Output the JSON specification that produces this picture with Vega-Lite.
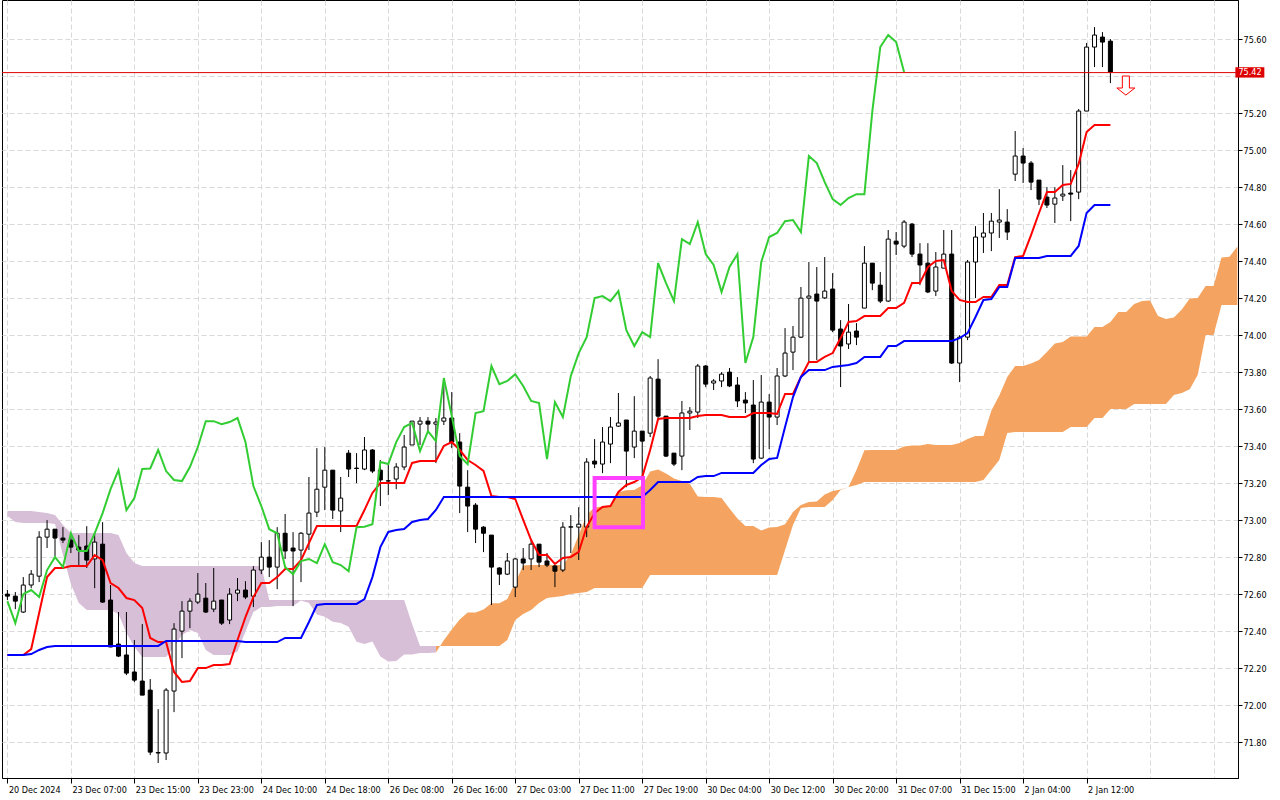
{
  "$schema": "https://vega.github.io/schema/vega-lite/v6.json",
  "description": "H1 Ichimoku chart, 20 Dec 2024 - 2 Jan 2025",
  "width": 1236,
  "height": 778,
  "autosize": "none",
  "padding": {"left": 2, "top": 0, "right": 42, "bottom": 22},
  "background": "white",
  "config": {
    "view": {"stroke": "black", "strokeWidth": 1},
    "font": "DejaVu Sans Condensed"
  },
  "datasets": {
    "bars": [
      {"i":0,"o":72.601,"h":72.623,"l":72.569,"c":72.590,"t":72.272,"k":72.272,"ch":72.563,"sa":73.023,"sb":73.050},
      {"i":1,"o":72.590,"h":72.612,"l":72.520,"c":72.563,"t":72.272,"k":72.272,"ch":72.444,"sa":72.991,"sb":73.050},
      {"i":2,"o":72.504,"h":72.693,"l":72.499,"c":72.650,"t":72.272,"k":72.272,"ch":72.601,"sa":72.986,"sb":73.050},
      {"i":3,"o":72.650,"h":72.731,"l":72.633,"c":72.709,"t":72.304,"k":72.277,"ch":72.623,"sa":72.986,"sb":73.050},
      {"i":4,"o":72.698,"h":72.941,"l":72.666,"c":72.909,"t":72.499,"k":72.299,"ch":72.585,"sa":72.986,"sb":73.045},
      {"i":5,"o":72.909,"h":73.001,"l":72.850,"c":72.952,"t":72.693,"k":72.315,"ch":72.731,"sa":72.986,"sb":73.039},
      {"i":6,"o":72.952,"h":72.952,"l":72.806,"c":72.904,"t":72.742,"k":72.321,"ch":72.801,"sa":72.980,"sb":73.028},
      {"i":7,"o":72.904,"h":72.963,"l":72.877,"c":72.893,"t":72.742,"k":72.321,"ch":72.747,"sa":72.812,"sb":72.975},
      {"i":8,"o":72.893,"h":72.930,"l":72.823,"c":72.855,"t":72.753,"k":72.321,"ch":72.930,"sa":72.656,"sb":72.931},
      {"i":9,"o":72.855,"h":72.920,"l":72.758,"c":72.839,"t":72.753,"k":72.321,"ch":72.834,"sa":72.553,"sb":72.931},
      {"i":10,"o":72.861,"h":72.968,"l":72.742,"c":72.785,"t":72.753,"k":72.321,"ch":72.834,"sa":72.515,"sb":72.931},
      {"i":11,"o":72.791,"h":72.930,"l":72.633,"c":72.882,"t":72.812,"k":72.321,"ch":72.930,"sa":72.515,"sb":72.931},
      {"i":12,"o":72.871,"h":72.990,"l":72.553,"c":72.558,"t":72.785,"k":72.321,"ch":73.039,"sa":72.515,"sb":72.931},
      {"i":13,"o":72.569,"h":72.650,"l":72.315,"c":72.315,"t":72.661,"k":72.321,"ch":73.168,"sa":72.515,"sb":72.931},
      {"i":14,"o":72.331,"h":72.504,"l":72.261,"c":72.266,"t":72.634,"k":72.321,"ch":73.271,"sa":72.494,"sb":72.921},
      {"i":15,"o":72.272,"h":72.504,"l":72.163,"c":72.174,"t":72.580,"k":72.321,"ch":73.055,"sa":72.391,"sb":72.823},
      {"i":16,"o":72.180,"h":72.353,"l":72.125,"c":72.136,"t":72.569,"k":72.321,"ch":73.120,"sa":72.315,"sb":72.769},
      {"i":17,"o":72.131,"h":72.439,"l":72.055,"c":72.055,"t":72.526,"k":72.321,"ch":73.277,"sa":72.261,"sb":72.753},
      {"i":18,"o":72.082,"h":72.142,"l":71.731,"c":71.747,"t":72.364,"k":72.321,"ch":73.280,"sa":72.261,"sb":72.753},
      {"i":19,"o":71.742,"h":71.979,"l":71.688,"c":71.745,"t":72.342,"k":72.321,"ch":73.380,"sa":72.261,"sb":72.753},
      {"i":20,"o":71.742,"h":72.093,"l":71.704,"c":72.082,"t":72.342,"k":72.348,"ch":73.266,"sa":72.261,"sb":72.753},
      {"i":21,"o":72.077,"h":72.444,"l":71.963,"c":72.412,"t":72.180,"k":72.348,"ch":73.218,"sa":72.315,"sb":72.753},
      {"i":22,"o":72.401,"h":72.563,"l":72.255,"c":72.509,"t":72.126,"k":72.348,"ch":73.212,"sa":72.380,"sb":72.753},
      {"i":23,"o":72.509,"h":72.579,"l":72.417,"c":72.563,"t":72.131,"k":72.348,"ch":73.288,"sa":72.407,"sb":72.753},
      {"i":24,"o":72.558,"h":72.715,"l":72.547,"c":72.601,"t":72.201,"k":72.348,"ch":73.396,"sa":72.391,"sb":72.753},
      {"i":25,"o":72.579,"h":72.661,"l":72.499,"c":72.504,"t":72.201,"k":72.348,"ch":73.536,"sa":72.299,"sb":72.753},
      {"i":26,"o":72.520,"h":72.742,"l":72.504,"c":72.563,"t":72.218,"k":72.348,"ch":73.536,"sa":72.272,"sb":72.753},
      {"i":27,"o":72.569,"h":72.569,"l":72.434,"c":72.444,"t":72.218,"k":72.348,"ch":73.520,"sa":72.272,"sb":72.753},
      {"i":28,"o":72.461,"h":72.633,"l":72.439,"c":72.601,"t":72.223,"k":72.348,"ch":73.531,"sa":72.272,"sb":72.753},
      {"i":29,"o":72.606,"h":72.688,"l":72.563,"c":72.623,"t":72.353,"k":72.348,"ch":73.553,"sa":72.291,"sb":72.753},
      {"i":30,"o":72.623,"h":72.671,"l":72.574,"c":72.585,"t":72.477,"k":72.342,"ch":73.423,"sa":72.399,"sb":72.753},
      {"i":31,"o":72.590,"h":72.752,"l":72.531,"c":72.731,"t":72.585,"k":72.342,"ch":73.185,"sa":72.504,"sb":72.753},
      {"i":32,"o":72.731,"h":72.882,"l":72.709,"c":72.801,"t":72.661,"k":72.342,"ch":73.077,"sa":72.532,"sb":72.753},
      {"i":33,"o":72.801,"h":72.893,"l":72.693,"c":72.747,"t":72.661,"k":72.342,"ch":72.952,"sa":72.532,"sb":72.569},
      {"i":34,"o":72.747,"h":72.963,"l":72.628,"c":72.930,"t":72.693,"k":72.342,"ch":72.930,"sa":72.537,"sb":72.569},
      {"i":35,"o":72.930,"h":73.034,"l":72.791,"c":72.834,"t":72.737,"k":72.364,"ch":72.747,"sa":72.537,"sb":72.569},
      {"i":36,"o":72.850,"h":72.936,"l":72.536,"c":72.834,"t":72.737,"k":72.364,"ch":72.709,"sa":72.537,"sb":72.569},
      {"i":37,"o":72.839,"h":72.936,"l":72.666,"c":72.930,"t":72.785,"k":72.364,"ch":72.780,"sa":72.567,"sb":72.569},
      {"i":38,"o":72.925,"h":73.234,"l":72.839,"c":73.039,"t":72.877,"k":72.450,"ch":72.791,"sa":72.553,"sb":72.569},
      {"i":39,"o":73.044,"h":73.390,"l":73.017,"c":73.168,"t":72.969,"k":72.542,"ch":72.769,"sa":72.491,"sb":72.569},
      {"i":40,"o":73.179,"h":73.396,"l":73.055,"c":73.271,"t":72.969,"k":72.548,"ch":72.871,"sa":72.478,"sb":72.569},
      {"i":41,"o":73.271,"h":73.271,"l":73.007,"c":73.055,"t":72.969,"k":72.548,"ch":72.774,"sa":72.451,"sb":72.569},
      {"i":42,"o":73.050,"h":73.234,"l":72.936,"c":73.120,"t":72.969,"k":72.548,"ch":72.758,"sa":72.445,"sb":72.569},
      {"i":43,"o":73.363,"h":73.380,"l":73.234,"c":73.277,"t":72.969,"k":72.548,"ch":72.725,"sa":72.424,"sb":72.569},
      {"i":44,"o":73.282,"h":73.363,"l":73.201,"c":73.280,"t":72.969,"k":72.548,"ch":72.963,"sa":72.343,"sb":72.569},
      {"i":45,"o":73.277,"h":73.450,"l":73.271,"c":73.380,"t":73.056,"k":72.574,"ch":72.965,"sa":72.332,"sb":72.569},
      {"i":46,"o":73.380,"h":73.385,"l":73.255,"c":73.266,"t":73.148,"k":72.693,"ch":72.979,"sa":72.345,"sb":72.569},
      {"i":47,"o":73.271,"h":73.325,"l":73.077,"c":73.218,"t":73.202,"k":72.855,"ch":73.315,"sa":72.264,"sb":72.569},
      {"i":48,"o":73.212,"h":73.309,"l":73.136,"c":73.214,"t":73.202,"k":72.937,"ch":73.304,"sa":72.237,"sb":72.569},
      {"i":49,"o":73.223,"h":73.309,"l":73.168,"c":73.288,"t":73.202,"k":72.948,"ch":73.423,"sa":72.240,"sb":72.569},
      {"i":50,"o":73.288,"h":73.461,"l":73.271,"c":73.396,"t":73.202,"k":72.953,"ch":73.504,"sa":72.275,"sb":72.569},
      {"i":51,"o":73.407,"h":73.536,"l":73.407,"c":73.536,"t":73.310,"k":72.991,"ch":73.526,"sa":72.275,"sb":72.439},
      {"i":52,"o":73.520,"h":73.558,"l":73.407,"c":73.536,"t":73.321,"k":73.002,"ch":73.374,"sa":72.283,"sb":72.320},
      {"i":53,"o":73.536,"h":73.558,"l":73.471,"c":73.520,"t":73.321,"k":73.007,"ch":73.482,"sa":72.283,"sb":72.320},
      {"i":54,"o":73.520,"h":73.553,"l":73.309,"c":73.531,"t":73.321,"k":73.056,"ch":73.428,"sa":72.286,"sb":72.320},
      {"i":55,"o":73.536,"h":73.769,"l":73.515,"c":73.553,"t":73.402,"k":73.126,"ch":73.769,"sa":72.351,"sb":72.320},
      {"i":56,"o":73.553,"h":73.693,"l":73.390,"c":73.423,"t":73.423,"k":73.126,"ch":73.563,"sa":72.410,"sb":72.320},
      {"i":57,"o":73.423,"h":73.471,"l":73.039,"c":73.185,"t":73.380,"k":73.126,"ch":73.347,"sa":72.464,"sb":72.320},
      {"i":58,"o":73.179,"h":73.271,"l":72.936,"c":73.077,"t":73.326,"k":73.126,"ch":73.304,"sa":72.502,"sb":72.320},
      {"i":59,"o":73.082,"h":73.093,"l":72.877,"c":72.952,"t":73.299,"k":73.126,"ch":73.580,"sa":72.502,"sb":72.320},
      {"i":60,"o":72.963,"h":72.968,"l":72.828,"c":72.930,"t":73.267,"k":73.126,"ch":73.590,"sa":72.518,"sb":72.320},
      {"i":61,"o":72.920,"h":72.920,"l":72.542,"c":72.747,"t":73.131,"k":73.126,"ch":73.834,"sa":72.551,"sb":72.320},
      {"i":62,"o":72.742,"h":72.747,"l":72.650,"c":72.709,"t":73.126,"k":73.126,"ch":73.736,"sa":72.551,"sb":72.320},
      {"i":63,"o":72.709,"h":72.823,"l":72.704,"c":72.780,"t":73.126,"k":73.126,"ch":73.753,"sa":72.575,"sb":72.353},
      {"i":64,"o":72.639,"h":72.796,"l":72.585,"c":72.791,"t":73.115,"k":73.126,"ch":73.790,"sa":72.664,"sb":72.461},
      {"i":65,"o":72.791,"h":72.850,"l":72.731,"c":72.769,"t":73.002,"k":73.126,"ch":73.726,"sa":72.756,"sb":72.494},
      {"i":66,"o":72.791,"h":72.893,"l":72.731,"c":72.871,"t":72.893,"k":73.126,"ch":73.645,"sa":72.759,"sb":72.515},
      {"i":67,"o":72.871,"h":72.871,"l":72.747,"c":72.774,"t":72.812,"k":73.126,"ch":73.634,"sa":72.759,"sb":72.553},
      {"i":68,"o":72.780,"h":72.823,"l":72.747,"c":72.758,"t":72.812,"k":73.126,"ch":73.331,"sa":72.759,"sb":72.580},
      {"i":69,"o":72.753,"h":72.758,"l":72.639,"c":72.725,"t":72.764,"k":73.126,"ch":73.639,"sa":72.759,"sb":72.585},
      {"i":70,"o":72.731,"h":72.990,"l":72.720,"c":72.963,"t":72.796,"k":73.126,"ch":73.558,"sa":72.759,"sb":72.591},
      {"i":71,"o":72.963,"h":73.028,"l":72.823,"c":72.965,"t":72.802,"k":73.126,"ch":73.780,"sa":72.815,"sb":72.601},
      {"i":72,"o":72.963,"h":73.071,"l":72.785,"c":72.979,"t":72.829,"k":73.126,"ch":73.904,"sa":72.921,"sb":72.607},
      {"i":73,"o":72.963,"h":73.336,"l":72.909,"c":73.315,"t":72.964,"k":73.126,"ch":73.990,"sa":73.029,"sb":72.612},
      {"i":74,"o":73.320,"h":73.439,"l":73.282,"c":73.304,"t":73.039,"k":73.126,"ch":74.201,"sa":73.070,"sb":72.634},
      {"i":75,"o":73.304,"h":73.504,"l":73.255,"c":73.423,"t":73.072,"k":73.126,"ch":74.212,"sa":73.075,"sb":72.634},
      {"i":76,"o":73.412,"h":73.558,"l":73.309,"c":73.504,"t":73.077,"k":73.126,"ch":74.185,"sa":73.078,"sb":72.634},
      {"i":77,"o":73.509,"h":73.688,"l":73.504,"c":73.526,"t":73.153,"k":73.126,"ch":74.239,"sa":73.151,"sb":72.634},
      {"i":78,"o":73.542,"h":73.542,"l":73.179,"c":73.374,"t":73.191,"k":73.126,"ch":74.028,"sa":73.162,"sb":72.634},
      {"i":79,"o":73.396,"h":73.671,"l":73.336,"c":73.482,"t":73.207,"k":73.126,"ch":73.942,"sa":73.164,"sb":72.634},
      {"i":80,"o":73.482,"h":73.482,"l":73.234,"c":73.428,"t":73.234,"k":73.126,"ch":74.017,"sa":73.189,"sb":72.634},
      {"i":81,"o":73.471,"h":73.780,"l":73.450,"c":73.769,"t":73.380,"k":73.164,"ch":73.990,"sa":73.264,"sb":72.704},
      {"i":82,"o":73.763,"h":73.871,"l":73.553,"c":73.563,"t":73.548,"k":73.207,"ch":74.390,"sa":73.275,"sb":72.704},
      {"i":83,"o":73.563,"h":73.563,"l":73.342,"c":73.347,"t":73.553,"k":73.207,"ch":74.282,"sa":73.253,"sb":72.704},
      {"i":84,"o":73.363,"h":73.363,"l":73.293,"c":73.304,"t":73.553,"k":73.207,"ch":74.185,"sa":73.226,"sb":72.704},
      {"i":85,"o":73.347,"h":73.645,"l":73.271,"c":73.580,"t":73.553,"k":73.207,"ch":74.520,"sa":73.213,"sb":72.704},
      {"i":86,"o":73.580,"h":73.612,"l":73.488,"c":73.590,"t":73.553,"k":73.207,"ch":74.493,"sa":73.197,"sb":72.704},
      {"i":87,"o":73.585,"h":73.845,"l":73.553,"c":73.834,"t":73.564,"k":73.234,"ch":74.612,"sa":73.129,"sb":72.704},
      {"i":88,"o":73.834,"h":73.839,"l":73.720,"c":73.736,"t":73.569,"k":73.239,"ch":74.439,"sa":73.126,"sb":72.704},
      {"i":89,"o":73.742,"h":73.763,"l":73.704,"c":73.753,"t":73.569,"k":73.239,"ch":74.380,"sa":73.126,"sb":72.704},
      {"i":90,"o":73.753,"h":73.801,"l":73.720,"c":73.790,"t":73.569,"k":73.256,"ch":74.234,"sa":73.121,"sb":72.704},
      {"i":91,"o":73.801,"h":73.823,"l":73.720,"c":73.726,"t":73.558,"k":73.256,"ch":74.369,"sa":73.064,"sb":72.704},
      {"i":92,"o":73.731,"h":73.774,"l":73.612,"c":73.645,"t":73.558,"k":73.256,"ch":74.439,"sa":73.010,"sb":72.704},
      {"i":93,"o":73.650,"h":73.693,"l":73.580,"c":73.634,"t":73.558,"k":73.256,"ch":73.850,"sa":72.969,"sb":72.704},
      {"i":94,"o":73.623,"h":73.758,"l":73.309,"c":73.331,"t":73.580,"k":73.256,"ch":73.990,"sa":72.969,"sb":72.704},
      {"i":95,"o":73.336,"h":73.785,"l":73.331,"c":73.639,"t":73.580,"k":73.299,"ch":74.396,"sa":72.945,"sb":72.704},
      {"i":96,"o":73.639,"h":73.682,"l":73.385,"c":73.558,"t":73.580,"k":73.331,"ch":74.531,"sa":72.961,"sb":72.704},
      {"i":97,"o":73.558,"h":73.823,"l":73.515,"c":73.780,"t":73.575,"k":73.337,"ch":74.553,"sa":72.964,"sb":72.704},
      {"i":98,"o":73.780,"h":74.039,"l":73.774,"c":73.904,"t":73.683,"k":73.504,"ch":74.617,"sa":72.978,"sb":72.839},
      {"i":99,"o":73.909,"h":74.050,"l":73.812,"c":73.990,"t":73.683,"k":73.666,"ch":74.623,"sa":73.045,"sb":72.975},
      {"i":100,"o":73.990,"h":74.261,"l":73.985,"c":74.201,"t":73.775,"k":73.775,"ch":74.558,"sa":73.083,"sb":73.066},
      {"i":101,"o":74.201,"h":74.396,"l":73.850,"c":74.212,"t":73.856,"k":73.812,"ch":74.969,"sa":73.099,"sb":73.072},
      {"i":102,"o":74.223,"h":74.369,"l":73.866,"c":74.185,"t":73.856,"k":73.812,"ch":74.931,"sa":73.102,"sb":73.072},
      {"i":103,"o":74.202,"h":74.423,"l":74.196,"c":74.239,"t":73.883,"k":73.812,"ch":74.828,"sa":73.140,"sb":73.072},
      {"i":104,"o":74.250,"h":74.336,"l":74.017,"c":74.028,"t":73.904,"k":73.829,"ch":74.736,"sa":73.159,"sb":73.110},
      {"i":105,"o":74.034,"h":74.082,"l":73.720,"c":73.942,"t":73.985,"k":73.834,"ch":74.704,"sa":73.167,"sb":73.164},
      {"i":106,"o":73.953,"h":74.169,"l":73.926,"c":74.017,"t":74.072,"k":73.839,"ch":74.742,"sa":73.180,"sb":73.180},
      {"i":107,"o":74.023,"h":74.066,"l":73.947,"c":73.990,"t":74.077,"k":73.850,"ch":74.763,"sa":73.272,"sb":73.191},
      {"i":108,"o":74.147,"h":74.482,"l":74.147,"c":74.390,"t":74.104,"k":73.883,"ch":74.763,"sa":73.378,"sb":73.207},
      {"i":109,"o":74.390,"h":74.390,"l":74.244,"c":74.282,"t":74.104,"k":73.883,"ch":75.212,"sa":73.380,"sb":73.207},
      {"i":110,"o":74.271,"h":74.342,"l":74.174,"c":74.185,"t":74.104,"k":73.883,"ch":75.558,"sa":73.380,"sb":73.207},
      {"i":111,"o":74.185,"h":74.569,"l":74.180,"c":74.520,"t":74.147,"k":73.942,"ch":75.623,"sa":73.380,"sb":73.207},
      {"i":112,"o":74.509,"h":74.558,"l":74.434,"c":74.493,"t":74.147,"k":73.942,"ch":75.585,"sa":73.380,"sb":73.207},
      {"i":113,"o":74.482,"h":74.623,"l":74.471,"c":74.612,"t":74.175,"k":73.969,"ch":75.423,"sa":73.399,"sb":73.207},
      {"i":114,"o":74.601,"h":74.607,"l":74.423,"c":74.439,"t":74.283,"k":73.969,"sa":73.404,"sb":73.207},
      {"i":115,"o":74.439,"h":74.498,"l":74.271,"c":74.380,"t":74.283,"k":73.969,"sa":73.404,"sb":73.207},
      {"i":116,"o":74.390,"h":74.498,"l":74.228,"c":74.234,"t":74.369,"k":73.969,"sa":73.413,"sb":73.207},
      {"i":117,"o":74.239,"h":74.450,"l":74.212,"c":74.369,"t":74.402,"k":73.969,"sa":73.407,"sb":73.207},
      {"i":118,"o":74.363,"h":74.569,"l":74.363,"c":74.439,"t":74.407,"k":73.969,"sa":73.407,"sb":73.207},
      {"i":119,"o":74.439,"h":74.569,"l":73.845,"c":73.850,"t":74.239,"k":73.969,"sa":73.407,"sb":73.207},
      {"i":120,"o":73.850,"h":74.001,"l":73.747,"c":73.990,"t":74.191,"k":73.985,"sa":73.418,"sb":73.207},
      {"i":121,"o":73.990,"h":74.407,"l":73.974,"c":74.396,"t":74.180,"k":74.012,"sa":73.440,"sb":73.207},
      {"i":122,"o":74.396,"h":74.590,"l":74.201,"c":74.531,"t":74.180,"k":74.099,"sa":73.456,"sb":73.207},
      {"i":123,"o":74.531,"h":74.661,"l":74.445,"c":74.553,"t":74.207,"k":74.191,"sa":73.456,"sb":73.218},
      {"i":124,"o":74.553,"h":74.661,"l":74.455,"c":74.617,"t":74.207,"k":74.196,"sa":73.594,"sb":73.272},
      {"i":125,"o":74.612,"h":74.790,"l":74.526,"c":74.623,"t":74.272,"k":74.261,"sa":73.675,"sb":73.326},
      {"i":126,"o":74.612,"h":74.682,"l":74.515,"c":74.558,"t":74.272,"k":74.261,"sa":73.775,"sb":73.472},
      {"i":127,"o":74.871,"h":75.104,"l":74.834,"c":74.969,"t":74.423,"k":74.418,"sa":73.834,"sb":73.477},
      {"i":128,"o":74.969,"h":75.012,"l":74.823,"c":74.931,"t":74.429,"k":74.418,"sa":73.834,"sb":73.477},
      {"i":129,"o":74.931,"h":74.942,"l":74.785,"c":74.828,"t":74.542,"k":74.418,"sa":73.848,"sb":73.477},
      {"i":130,"o":74.839,"h":74.839,"l":74.704,"c":74.736,"t":74.661,"k":74.418,"sa":73.867,"sb":73.477},
      {"i":131,"o":74.747,"h":74.801,"l":74.688,"c":74.704,"t":74.775,"k":74.429,"sa":73.910,"sb":73.477},
      {"i":132,"o":74.709,"h":74.801,"l":74.607,"c":74.742,"t":74.775,"k":74.429,"sa":73.956,"sb":73.477},
      {"i":133,"o":74.753,"h":74.920,"l":74.726,"c":74.763,"t":74.812,"k":74.429,"sa":73.964,"sb":73.477},
      {"i":134,"o":74.769,"h":74.893,"l":74.617,"c":74.763,"t":74.818,"k":74.429,"sa":73.994,"sb":73.504},
      {"i":135,"o":74.774,"h":75.223,"l":74.736,"c":75.212,"t":74.926,"k":74.483,"sa":73.994,"sb":73.504},
      {"i":136,"o":75.212,"h":75.580,"l":75.212,"c":75.558,"t":75.099,"k":74.661,"sa":73.994,"sb":73.504},
      {"i":137,"o":75.558,"h":75.666,"l":75.450,"c":75.623,"t":75.137,"k":74.704,"sa":74.045,"sb":73.553},
      {"i":138,"o":75.612,"h":75.639,"l":75.450,"c":75.585,"t":75.137,"k":74.704,"sa":74.045,"sb":73.553},
      {"i":139,"o":75.590,"h":75.601,"l":75.363,"c":75.423,"t":75.137,"k":74.704,"sa":74.072,"sb":73.602},
      {"i":140,"sa":74.126,"sb":73.602},
      {"i":141,"sa":74.126,"sb":73.602},
      {"i":142,"sa":74.169,"sb":73.629},
      {"i":143,"sa":74.186,"sb":73.629},
      {"i":144,"sa":74.188,"sb":73.629},
      {"i":145,"sa":74.104,"sb":73.629},
      {"i":146,"sa":74.088,"sb":73.629},
      {"i":147,"sa":74.096,"sb":73.677},
      {"i":148,"sa":74.140,"sb":73.688},
      {"i":149,"sa":74.199,"sb":73.709},
      {"i":150,"sa":74.202,"sb":73.785},
      {"i":151,"sa":74.267,"sb":74.001},
      {"i":152,"sa":74.267,"sb":74.001},
      {"i":153,"sa":74.421,"sb":74.164},
      {"i":154,"sa":74.424,"sb":74.164},
      {"i":155,"sa":74.480,"sb":74.164}
    ]
  },
  "layer": [
    {
      "data": {"name": "bars"},
      "transform": [{"filter": "datum.i <= 54"}],
      "mark": {"type": "area", "color": "#D8BFD8", "clip": true},
      "encoding": {
        "x": {
          "field": "i",
          "type": "quantitative",
          "title": null,
          "scale": {"domain": [-0.05, 154.45], "nice": false, "zero": false},
          "axis": {
            "orient": "bottom",
            "values": [0,4,8,12,16,20,24,28,32,36,40,44,48,52,56,60,64,68,72,76,80,84,88,92,96,100,104,108,112,116,120,124,128,132,136,140,144,148,152],
            "labelExpr": "(datum.value % 8 === 0 && datum.value <= 136) ? ['20 Dec 2024','23 Dec 07:00','23 Dec 15:00','23 Dec 23:00','24 Dec 10:00','24 Dec 18:00','26 Dec 08:00','26 Dec 16:00','27 Dec 03:00','27 Dec 11:00','27 Dec 19:00','30 Dec 04:00','30 Dec 12:00','30 Dec 20:00','31 Dec 07:00','31 Dec 15:00','2 Jan 04:00','2 Jan 12:00'][datum.value / 8] : ''",
            "labelAlign": "left",
            "labelBaseline": "top",
            "labelOffset": 1,
            "labelPadding": 2,
            "labelFont": "DejaVu Sans Condensed",
            "labelFontSize": 9,
            "labelColor": "black",
            "labelOverlap": false,
            "labelFlush": false,
            "labelBound": false,
            "tickSize": 5,
            "tickColor": {"condition": {"test": "datum.value % 8 !== 0 || datum.value > 136", "value": "transparent"}, "value": "black"},
            "domainColor": "black",
            "grid": true,
            "gridColor": "#d9d9d9",
            "gridDash": [5, 3]
          }
        },
        "y": {
          "field": "sa",
          "type": "quantitative",
          "title": null,
          "scale": {"domain": [71.607, 75.8124], "nice": false, "zero": false},
          "axis": {
            "orient": "right",
            "values": [71.8,72.0,72.2,72.4,72.6,72.8,73.0,73.2,73.4,73.6,73.8,74.0,74.2,74.4,74.6,74.8,75.0,75.2,75.4,75.6],
            "labelExpr": "abs(datum.value - 75.4) < 0.001 ? '' : format(datum.value, '.2f')",
            "labelFont": "DejaVu Sans Condensed",
            "labelFontSize": 9,
            "labelColor": "black",
            "labelPadding": 1,
            "labelOverlap": false,
            "labelFlush": false,
            "tickSize": 4,
            "tickColor": "black",
            "domainColor": "black",
            "grid": true,
            "gridColor": "#d9d9d9",
            "gridDash": [5, 3]
          }
        },
        "y2": {"field": "sb"}
      }
    },
    {
      "data": {"name": "bars"},
      "transform": [{"filter": "datum.i >= 54"}],
      "mark": {"type": "area", "color": "#F4A460", "clip": true},
      "encoding": {
        "x": {"field": "i", "type": "quantitative", "title": null},
        "y": {"field": "sa", "type": "quantitative", "title": null},
        "y2": {"field": "sb"}
      }
    },
    {
      "data": {"name": "bars"},
      "transform": [{"filter": "isValid(datum.o)"}],
      "mark": {"type": "rule", "color": "black", "strokeWidth": 1},
      "encoding": {
        "x": {"field": "i", "type": "quantitative", "title": null},
        "y": {"field": "l", "type": "quantitative", "title": null},
        "y2": {"field": "h"}
      }
    },
    {
      "data": {"name": "bars"},
      "transform": [{"filter": "isValid(datum.o)"}],
      "mark": {"type": "bar", "width": 4, "stroke": "black", "strokeWidth": 1},
      "encoding": {
        "x": {"field": "i", "type": "quantitative", "title": null},
        "y": {"field": "o", "type": "quantitative", "title": null},
        "y2": {"field": "c"},
        "fill": {"condition": {"test": "datum.c >= datum.o", "value": "white"}, "value": "black"}
      }
    },
    {
      "data": {"name": "bars"},
      "transform": [{"filter": "isValid(datum.t)"}],
      "mark": {"type": "line", "color": "#FF0000", "strokeWidth": 2},
      "encoding": {
        "x": {"field": "i", "type": "quantitative", "title": null},
        "y": {"field": "t", "type": "quantitative", "title": null}
      }
    },
    {
      "data": {"name": "bars"},
      "transform": [{"filter": "isValid(datum.k)"}],
      "mark": {"type": "line", "color": "#0000FF", "strokeWidth": 2},
      "encoding": {
        "x": {"field": "i", "type": "quantitative", "title": null},
        "y": {"field": "k", "type": "quantitative", "title": null}
      }
    },
    {
      "data": {"name": "bars"},
      "transform": [{"filter": "isValid(datum.ch)"}],
      "mark": {"type": "line", "color": "#32CD32", "strokeWidth": 2},
      "encoding": {
        "x": {"field": "i", "type": "quantitative", "title": null},
        "y": {"field": "ch", "type": "quantitative", "title": null}
      }
    },
    {
      "data": {"values": [{"p": 75.42}]},
      "mark": {"type": "rule", "color": "#E00000", "strokeWidth": 1},
      "encoding": {
        "y": {"field": "p", "type": "quantitative", "title": null}
      }
    },
    {
      "data": {"values": [{"x1": 74, "x2": 80.1, "top": 73.228, "bottom": 72.963}]},
      "mark": {"type": "rect", "fill": null, "fillOpacity": 0, "stroke": "#FF40FF", "strokeWidth": 4},
      "encoding": {
        "x": {"field": "x1", "type": "quantitative", "title": null},
        "x2": {"field": "x2"},
        "y": {"field": "top", "type": "quantitative", "title": null},
        "y2": {"field": "bottom"}
      }
    },
    {
      "data": {"values": [{"i": 140.95, "p": 75.35}]},
      "mark": {
        "type": "point",
        "shape": "M -0.37 -1 L 0.37 -1 L 0.37 0.26 L 0.95 0.26 L 0 1 L -0.95 0.26 L -0.37 0.26 Z",
        "size": 361,
        "filled": true,
        "fill": "white",
        "stroke": "#FF0000",
        "strokeWidth": 1,
        "opacity": 1
      },
      "encoding": {
        "x": {"field": "i", "type": "quantitative", "title": null},
        "y": {"field": "p", "type": "quantitative", "title": null}
      }
    },
    {
      "data": {"values": [{"x1": 154.75, "x2": 158.4, "top": 75.449, "bottom": 75.393}]},
      "mark": {"type": "rect", "color": "#DD0000"},
      "encoding": {
        "x": {"field": "x1", "type": "quantitative", "title": null},
        "x2": {"field": "x2"},
        "y": {"field": "top", "type": "quantitative", "title": null},
        "y2": {"field": "bottom"}
      }
    },
    {
      "data": {"values": [{"i": 156.6, "p": 75.421, "label": "75.42"}]},
      "mark": {"type": "text", "color": "white", "font": "DejaVu Sans Condensed", "fontSize": 9, "align": "center", "baseline": "middle"},
      "encoding": {
        "x": {"field": "i", "type": "quantitative", "title": null},
        "y": {"field": "p", "type": "quantitative", "title": null},
        "text": {"field": "label"}
      }
    }
  ]
}
